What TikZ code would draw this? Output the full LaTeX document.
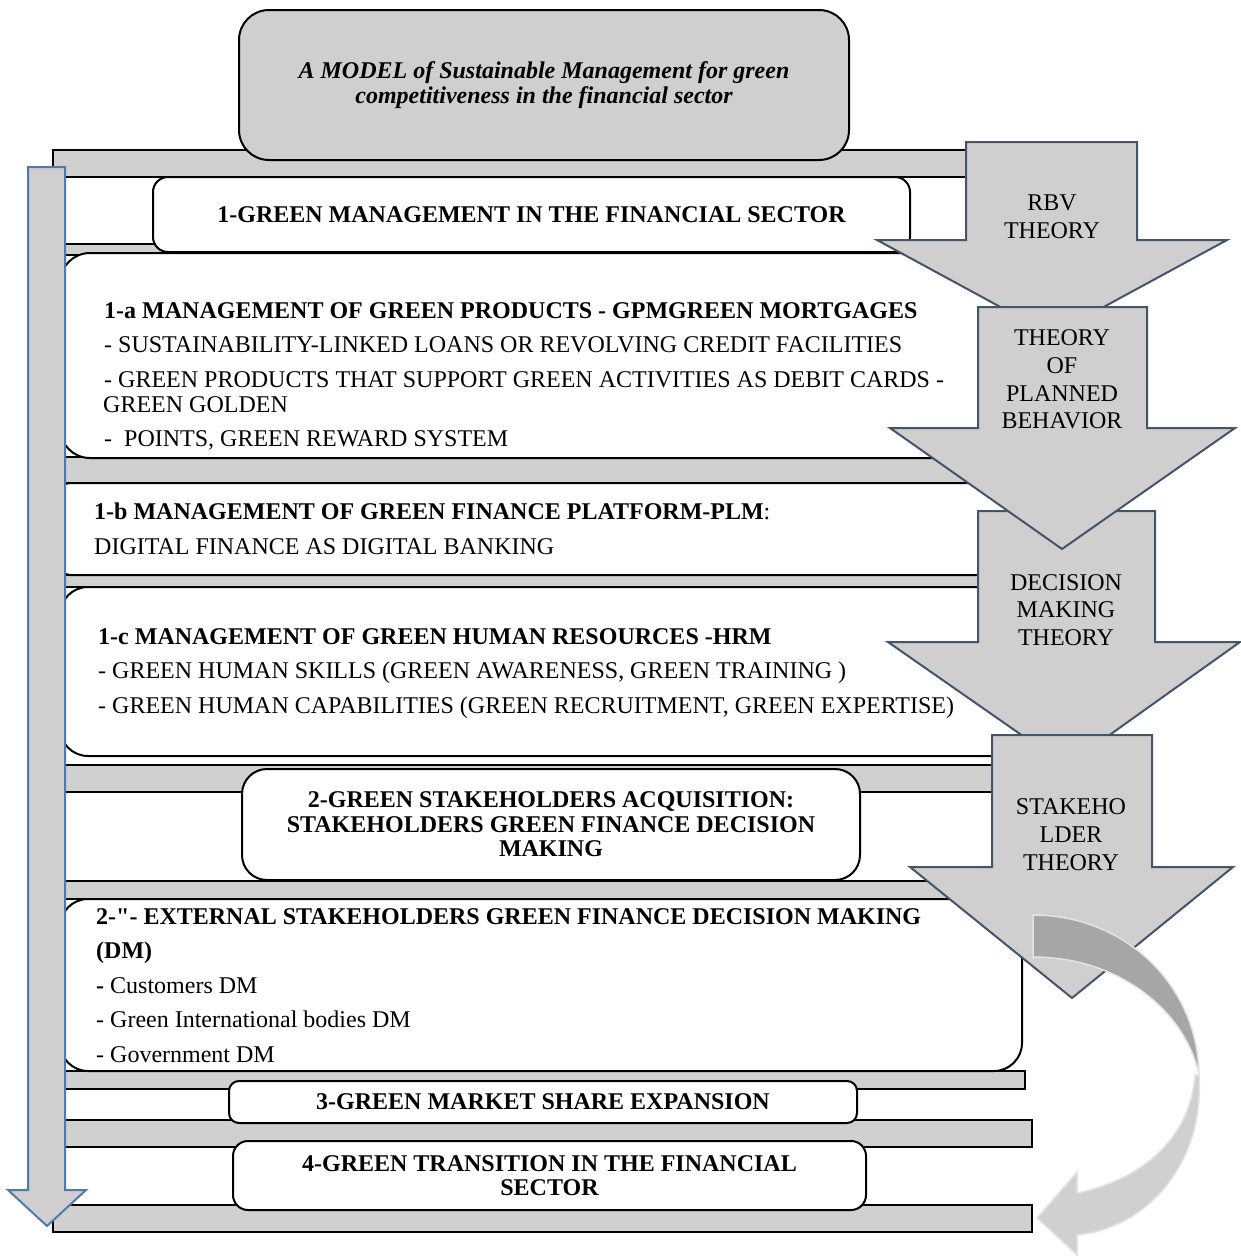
\documentclass[tikz,border=0pt]{standalone}
\usepackage{fontspec}
\setmainfont{Liberation Serif}
\usepackage{xcolor}
\usepackage{tikz}
\usetikzlibrary{positioning}

\definecolor{barGray}{HTML}{D0D0D0}
\definecolor{shapeGray}{HTML}{D0CECF}
\definecolor{slateEdge}{HTML}{44546A}
\definecolor{steelEdge}{HTML}{4F7BAA}
\definecolor{ribbonDark}{HTML}{A6A6A6}
\definecolor{ribbonEdge}{HTML}{E4E4E4}

\tikzset{
  bar/.style={draw=black, line width=2pt, fill=barGray},
  panel/.style={draw=black, line width=2pt, fill=white},
  theory/.style={draw=slateEdge, line width=2pt, fill=shapeGray, line join=miter},
  txtline/.style={anchor=base west, inner sep=0pt, font=\fontsize{24}{34}\selectfont},
  boldline/.style={anchor=base west, inner sep=0pt, font=\fontsize{24}{34}\selectfont\bfseries},
  stagebox/.style={panel, align=center, inner sep=0pt, font=\fontsize{24}{24.5}\selectfont\bfseries},
  theorytxt/.style={align=center, inner sep=0pt, font=\fontsize{24}{27.7}\selectfont},
}

\begin{document}
\begin{tikzpicture}[x=1pt, y=-1pt]
  \useasboundingbox (0,0) rectangle (1241,1256);

  % gray bars behind the stages
  \draw[bar] (53,150) rectangle (1000,177);
  \draw[bar] (53,244) rectangle (1000,255);
  \draw[bar] (53,457) rectangle (1040,483);
  \draw[bar] (53,575) rectangle (1040,587);
  \draw[bar] (53,765) rectangle (1040,792);
  \draw[bar] (53,881) rectangle (1040,899);
  \draw[bar] (53,1071) rectangle (1025,1089);
  \draw[bar] (53,1120) rectangle (1032,1147);
  \draw[bar] (53,1205) rectangle (1032,1232);

  % title
  \node[stagebox, fill=shapeGray, rounded corners=30pt, minimum width=610pt, minimum height=150pt,
        font=\fontsize{24}{24.5}\selectfont\bfseries\itshape] (title) at (544,85)
        {A MODEL of Sustainable Management for green\\competitiveness in the financial sector};

  % stage 1
  \node[stagebox, rounded corners=15pt, minimum width=757pt, minimum height=75pt] (green1) at (531.5,214.5)
        {1-GREEN MANAGEMENT IN THE FINANCIAL SECTOR};

  \draw[panel, rounded corners=30pt] (60,253) rectangle (1040,458);
  \node[boldline] (gpm) at (104,318) {1-a MANAGEMENT OF GREEN PRODUCTS - GPMGREEN MORTGAGES};
  \node[txtline] (gpm1) at (104,352) {- SUSTAINABILITY-LINKED LOANS OR REVOLVING CREDIT FACILITIES};
  \node[txtline] (gpm2) at (104,387) {- GREEN PRODUCTS THAT SUPPORT GREEN ACTIVITIES AS DEBIT CARDS -};
  \node[txtline] (gpm3) at (103,412) {GREEN GOLDEN};
  \node[txtline] (gpm4) at (104,446) {-\ \ POINTS, GREEN REWARD SYSTEM};

  \draw[panel, rounded corners=10pt] (60,483) rectangle (1040,575);
  \node[txtline] (plm) at (94,519) {{\bfseries 1-b MANAGEMENT OF GREEN FINANCE PLATFORM-PLM}:};
  \node[txtline] (plm1) at (94,554) {DIGITAL FINANCE AS DIGITAL BANKING};

  \draw[panel, rounded corners=28pt] (60,587) rectangle (1040,756);
  \node[boldline] (hrm) at (98,644) {1-c MANAGEMENT OF GREEN HUMAN RESOURCES -HRM};
  \node[txtline] (hrm1) at (98,678) {- GREEN HUMAN SKILLS (GREEN AWARENESS, GREEN TRAINING )};
  \node[txtline] (hrm2) at (98,713) {- GREEN HUMAN CAPABILITIES (GREEN RECRUITMENT, GREEN EXPERTISE)};

  % stage 2
  \node[stagebox, rounded corners=25pt, minimum width=618pt, minimum height=111pt] (green2) at (551,824.5)
        {2-GREEN STAKEHOLDERS ACQUISITION:\\STAKEHOLDERS GREEN FINANCE DECISION\\MAKING};

  \draw[panel, rounded corners=28pt] (60,899) rectangle (1022,1071);
  \node[boldline] (ext) at (96,924) {2-\textquotedbl- EXTERNAL STAKEHOLDERS GREEN FINANCE DECISION MAKING};
  \node[boldline] (ext0) at (96,958) {(DM)};
  \node[txtline] (ext1) at (96,993) {{\bfseries -} Customers DM};
  \node[txtline] (ext2) at (96,1027) {- Green International bodies DM};
  \node[txtline] (ext3) at (96,1062) {- Government DM};

  % stages 3 and 4
  \node[stagebox, rounded corners=10pt, minimum width=628pt, minimum height=42pt] (green3) at (543,1102)
        {3-GREEN MARKET SHARE EXPANSION};
  \node[stagebox, rounded corners=15pt, minimum width=633pt, minimum height=69pt] (green4) at (549.5,1175.5)
        {4-GREEN TRANSITION IN THE FINANCIAL\\SECTOR};

  % flow arrow on the left
  \draw[draw=steelEdge, line width=2pt, fill=shapeGray]
    (28,167) -- (65,167) -- (65,1190) -- (86,1190) -- (47,1226) -- (8,1190) -- (28,1190) -- cycle;

  % theory arrows
  \draw[theory] (966,142) -- (1137,142) -- (1137,240) -- (1227,240) -- (1052,335)
                -- (877,240) -- (966,240) -- cycle;
  \node[theorytxt] (rbv) at (1052,217) {RBV\\THEORY};

  \draw[theory] (978,511) -- (1155,511) -- (1155,642) -- (1240,642) -- (1066,766)
                -- (888,642) -- (978,642) -- cycle;
  \node[theorytxt] (dmt) at (1066,610) {DECISION\\MAKING\\THEORY};

  \draw[theory] (978,307) -- (1147,307) -- (1147,428) -- (1235,428) -- (1062,549)
                -- (890,428) -- (978,428) -- cycle;
  \node[theorytxt] (tpb) at (1062,379.5) {THEORY\\OF\\PLANNED\\BEHAVIOR};

  \draw[theory] (992,735) -- (1152,735) -- (1152,867) -- (1233,867) -- (1072,998)
                -- (910,867) -- (992,867) -- cycle;
  \node[theorytxt] (sht) at (1071,834.5) {STAKEHO\\LDER\\THEORY};

  % curved arrow back to the sector
  \draw[ribbonEdge, line width=1.5pt, fill=ribbonDark]
    (1033,915) .. controls (1125,915) and (1198,985) .. (1199,1075)
    .. controls (1186,1012) and (1120,957) .. (1033,957) -- cycle;
  \draw[ribbonEdge, line width=1.5pt, fill=barGray]
    (1199,1075) .. controls (1205,1160) and (1150,1228) .. (1077,1235)
    -- (1077,1255) -- (1037,1218) -- (1077,1172) -- (1077,1193)
    .. controls (1140,1180) and (1190,1140) .. (1195,1075) -- cycle;
\end{tikzpicture}
\end{document}
